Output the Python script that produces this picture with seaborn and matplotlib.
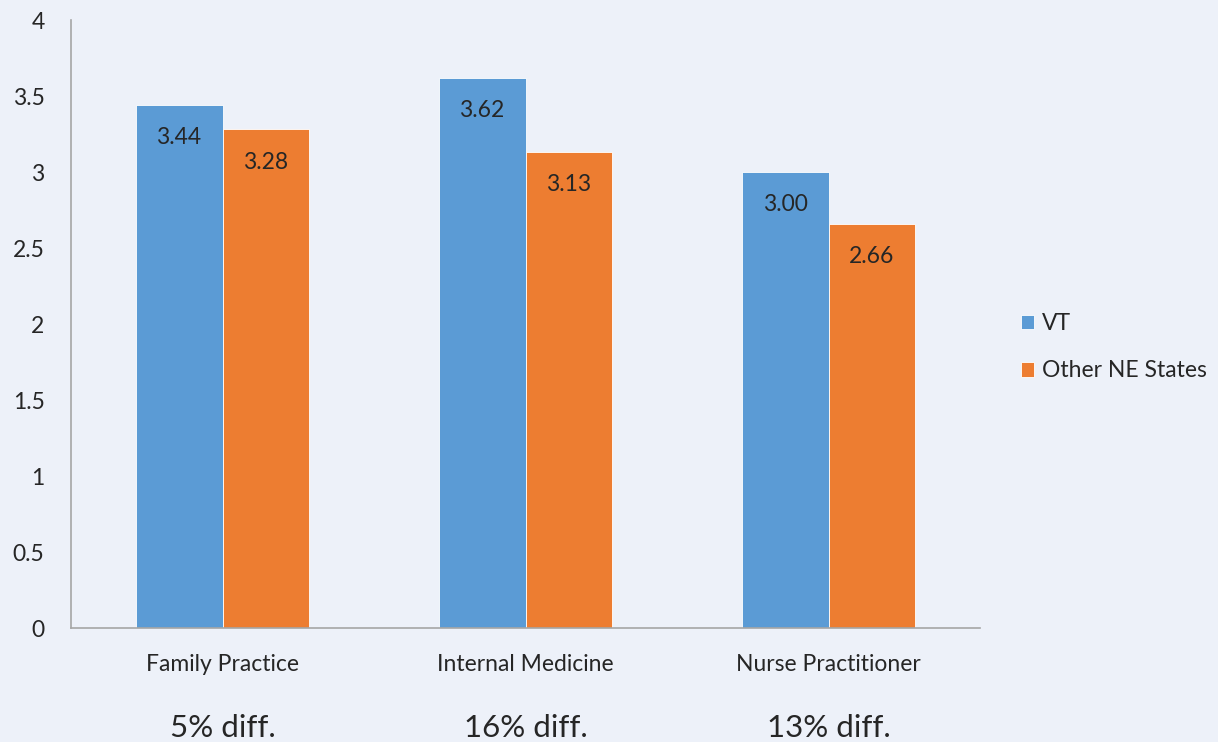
import matplotlib
matplotlib.use("Agg")
import matplotlib.pyplot as plt
import seaborn as sns
import pandas as pd

categories = ["Family Practice", "Internal Medicine", "Nurse Practitioner"]
series_names = ["VT", "Other NE States"]
vt_values = [3.44, 3.62, 3.00]
ne_values = [3.28, 3.13, 2.66]
diff_labels = ["5% diff.", "16% diff.", "13% diff."]
y_ticks = [0, 0.5, 1, 1.5, 2, 2.5, 3, 3.5, 4]
y_tick_labels = ["0", "0.5", "1", "1.5", "2", "2.5", "3", "3.5", "4"]

df = pd.DataFrame({
    "category": categories * 2,
    "series": [series_names[0]] * 3 + [series_names[1]] * 3,
    "value": vt_values + ne_values,
})

sns.set_theme(style="white")
plt.rcParams["font.family"] = ["Lato", "DejaVu Sans"]

bg = "#EDF1F9"
fig = plt.figure(figsize=(12.18, 7.42), dpi=100, facecolor=bg)
ax = fig.add_axes([0.0583, 0.1536, 0.7463, 0.8194], facecolor=bg)

palette = {"VT": "#5B9BD5", "Other NE States": "#ED7D31"}
sns.barplot(data=df, x="category", y="value", hue="series", order=categories,
            hue_order=series_names, palette=palette, width=0.574, ax=ax,
            edgecolor="white", linewidth=0.6, saturation=1, errorbar=None)

ax.set_ylim(0, 4)
ax.set_xlim(-0.5, 2.5)
ax.set_yticks(y_ticks)
ax.set_yticklabels(y_tick_labels, fontsize=16.5)
ax.tick_params(axis="y", length=0, pad=19)
ax.tick_params(axis="x", length=0, pad=19, labelsize=16.5)
ax.set_xlabel("")
ax.set_ylabel("")
for s in ["top", "right"]:
    ax.spines[s].set_visible(False)
for s in ["left", "bottom"]:
    ax.spines[s].set_color("#A6A6A6")
    ax.spines[s].set_linewidth(1.2)

for cont in ax.containers:
    labels = [f"{v:.2f}" for v in cont.datavalues]
    ax.bar_label(cont, labels=labels, label_type="edge", padding=-31, fontsize=16.5)

for i, t in enumerate(diff_labels):
    ax.text(i, -0.655, t, ha="center", va="center", fontsize=22.5,
            transform=ax.transData, clip_on=False)

leg = ax.legend(loc="center left", bbox_to_anchor=(1.022, 0.462), frameon=False,
                fontsize=16.5, handlelength=0.6, handleheight=0.6,
                labelspacing=1.15, handletextpad=0.35)

fig.savefig("out.png", dpi=100, facecolor=bg)
